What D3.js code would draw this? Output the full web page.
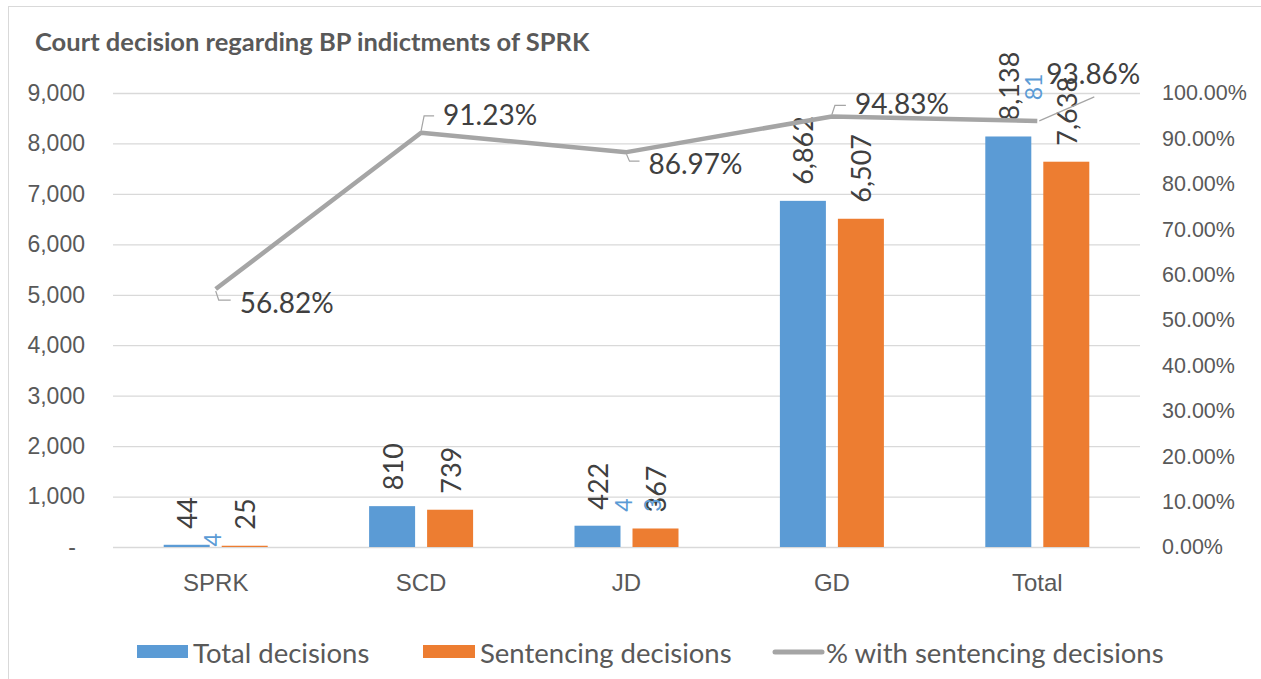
<!DOCTYPE html>
<html>
<head>
<meta charset="utf-8">
<script src="https://cdn.jsdelivr.net/npm/d3@7"></script>
<style>
  html, body { margin: 0; padding: 0; background: #fff; }
  svg { display: block; font-family: Lato, "Open Sans", sans-serif; }
</style>
</head>
<body>
<div id="chart"></div>
<script>
// Chart data
const categories = ["SPRK", "SCD", "JD", "GD", "Total"];
const totalDecisions = [44, 810, 422, 6862, 8138];
const sentencingDecisions = [25, 739, 367, 6507, 7638];
const pctSentencing = [0.5682, 0.9123, 0.8697, 0.9483, 0.9386];
const leftTicks = [0, 1000, 2000, 3000, 4000, 5000, 6000, 7000, 8000, 9000];
const rightTicks = [0, 0.1, 0.2, 0.3, 0.4, 0.5, 0.6, 0.7, 0.8, 0.9, 1.0];
const seriesNames = ["Total decisions", "Sentencing decisions", "% with sentencing decisions"];

// stray clipped labels seen in the original export
const ghostText = ["4", "4", "3", "81"];
const ghostCat = ["SPRK", "JD", "JD", "Total"];
const ghostValue = [140, 830, 830, 9120];

const width = 1261, height = 679;
const colors = { blue: "#5B9BD5", orange: "#ED7D31", line: "#A5A5A5", grid: "#D9D9D9", axis: "#595959", label: "#404040" };

const svg = d3.select("#chart")
  .append("svg")
  .attr("width", width)
  .attr("height", height);

// chart frame
svg.append("rect")
  .attr("x", 8.5).attr("y", 6.5)
  .attr("width", 1300).attr("height", 700)
  .attr("fill", "none")
  .attr("stroke", colors.grid);

svg.append("text")
  .attr("x", 35).attr("y", 51)
  .attr("fill", colors.axis)
  .attr("font-weight", "bold")
  .attr("font-size", 25.5)
  .text("Court decision regarding BP indictments of SPRK");

// Scales
const x = d3.scaleBand().domain(categories).range([113, 1140]);
const yL = d3.scaleLinear().domain([0, 9000]).range([547, 93]);
const yR = d3.scaleLinear().domain([0, 1]).range([547, 93]);
const barW = 46, barGap = 12;
const cx = c => x(c) + x.bandwidth() / 2;

// Gridlines
svg.append("g")
  .attr("transform", "translate(113,0)")
  .call(d3.axisLeft(yL).tickValues(leftTicks).tickSize(-(1140 - 113)).tickFormat(""))
  .call(g => g.select(".domain").remove())
  .call(g => g.selectAll("line").attr("stroke", colors.grid).attr("stroke-width", 1.3));

// Left axis labels
svg.append("g")
  .attr("transform", "translate(85,0)")
  .call(d3.axisLeft(yL).tickValues(leftTicks).tickSize(0).tickPadding(0)
    .tickFormat(d => d === 0 ? "-" : d3.format(",")(d)))
  .call(g => g.select(".domain").remove())
  .call(g => g.selectAll("text")
    .attr("fill", colors.axis).attr("font-size", 23).attr("font-family", null)
    .attr("dx", d => d === 0 ? -9 : 0));

// Right axis labels
svg.append("g")
  .attr("transform", "translate(1162,0)")
  .call(d3.axisRight(yR).tickValues(rightTicks).tickSize(0).tickPadding(0)
    .tickFormat(d3.format(".2%")))
  .call(g => g.select(".domain").remove())
  .call(g => g.selectAll("text").attr("fill", colors.axis).attr("font-size", 21.5).attr("font-family", null));

// Category labels
svg.append("g")
  .attr("transform", "translate(0,547)")
  .call(d3.axisBottom(x).tickSize(0).tickPadding(27))
  .call(g => g.select(".domain").remove())
  .call(g => g.selectAll("text").attr("fill", colors.axis).attr("font-size", 24).attr("font-family", null));

// Bars
const bars = [
  { values: totalDecisions, color: colors.blue, dx: -barGap / 2 - barW },
  { values: sentencingDecisions, color: colors.orange, dx: barGap / 2 }
];

bars.forEach(s => {
  const rows = categories.map((c, i) => ({ c, v: s.values[i] }));
  svg.append("g").selectAll("rect")
    .data(rows)
    .join("rect")
    .attr("x", d => cx(d.c) + s.dx)
    .attr("y", d => yL(d.v))
    .attr("width", barW)
    .attr("height", d => yL(0) - yL(d.v))
    .attr("fill", s.color);

  svg.append("g").selectAll("text")
    .data(rows)
    .join("text")
    .attr("transform", d => `translate(${cx(d.c) + s.dx + barW / 2},${yL(d.v) - 16}) rotate(-90)`)
    .attr("dominant-baseline", "central")
    .attr("fill", colors.label)
    .attr("font-size", 27)
    .text(d => d3.format(",")(d.v));
});

// ghost labels
svg.append("g").selectAll("text")
  .data(ghostText.map((t, i) => ({ t, c: ghostCat[i], v: ghostValue[i], k: i })))
  .join("text")
  .attr("transform", d => {
    const bx = d.k === 2 ? cx(d.c) + barGap / 2 + barW / 2 - 4 : cx(d.c) - barGap / 2 + 2;
    return `translate(${bx},${yL(d.v)}) rotate(-90)`;
  })
  .attr("text-anchor", "middle")
  .attr("dominant-baseline", "central")
  .attr("fill", colors.blue)
  .attr("font-size", 23)
  .text(d => d.t);

// Line series
const linePts = categories.map((c, i) => ({ c, v: pctSentencing[i] }));
svg.append("path")
  .datum(linePts)
  .attr("fill", "none")
  .attr("stroke", colors.line)
  .attr("stroke-width", 4.5)
  .attr("stroke-linejoin", "round")
  .attr("d", d3.line().x(d => cx(d.c)).y(d => yR(d.v)));

// Line labels with leader lines
const labelOffsets = [[24, 13], [22, -19], [22, 11], [23, -13], [9, -48]];
const lbl = svg.append("g");
linePts.forEach((d, i) => {
  const px = cx(d.c), py = yR(d.v);
  const [ox, oy] = labelOffsets[i];
  let leader;
  if (i === 4) leader = [[px + 2, py], [px + 57, py - 24]];
  else leader = [[px, py + Math.sign(oy) * 2], [px + 3, py + oy - Math.sign(oy) * 2], [px + ox - 9, py + oy - Math.sign(oy) * 2]];
  lbl.append("path")
    .attr("d", d3.line()(leader))
    .attr("fill", "none")
    .attr("stroke", colors.line)
    .attr("stroke-width", 1.2);
  lbl.append("text")
    .attr("x", px + ox)
    .attr("y", py + oy)
    .attr("dominant-baseline", "central")
    .attr("fill", colors.label)
    .attr("font-size", 28)
    .text(d3.format(".2%")(d.v));
});

// Legend
const legend = svg.append("g");
legend.append("rect").attr("x", 137).attr("y", 645).attr("width", 51).attr("height", 13).attr("fill", colors.blue);
legend.append("text").attr("x", 193).attr("y", 652).attr("dominant-baseline", "central")
  .attr("fill", colors.axis).attr("font-size", 27.5).text(seriesNames[0]);
legend.append("rect").attr("x", 423).attr("y", 645).attr("width", 52).attr("height", 13).attr("fill", colors.orange);
legend.append("text").attr("x", 480).attr("y", 652).attr("dominant-baseline", "central")
  .attr("fill", colors.axis).attr("font-size", 27.5).text(seriesNames[1]);
legend.append("line").attr("x1", 775).attr("x2", 822).attr("y1", 652).attr("y2", 652)
  .attr("stroke", colors.line).attr("stroke-width", 5).attr("stroke-linecap", "round");
legend.append("text").attr("x", 826).attr("y", 652).attr("dominant-baseline", "central")
  .attr("fill", colors.axis).attr("font-size", 27.5).text(seriesNames[2]);
</script>
</body>
</html>
